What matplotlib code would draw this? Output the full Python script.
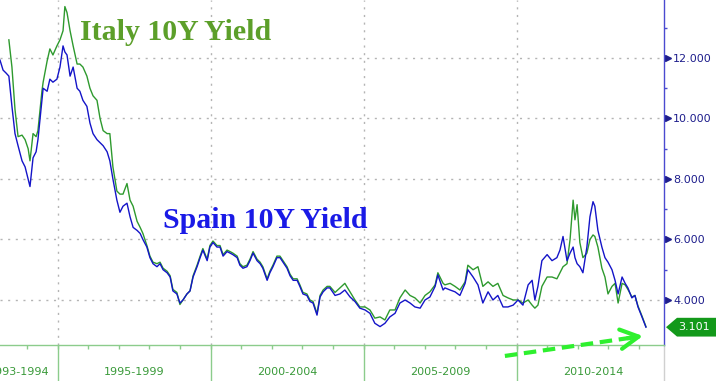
import numpy as np
import matplotlib
matplotlib.use('Agg')
import matplotlib.pyplot as plt
import matplotlib.transforms as mtransforms
from matplotlib.patches import Polygon

nan = np.nan

# ── data ───────────────────────────────────────────────────────────────────
DATES = [
    1993.12, 1993.22, 1993.32, 1993.41, 1993.51, 1993.61, 1993.71, 1993.84, 1993.94, 1994.04,
    1994.10, 1994.20, 1994.30, 1994.36, 1994.49, 1994.53, 1994.66, 1994.75, 1994.85, 1994.98,
    1995.08, 1995.18, 1995.24, 1995.31, 1995.41, 1995.51, 1995.64, 1995.73, 1995.83, 1995.96,
    1996.06, 1996.16, 1996.29, 1996.39, 1996.49, 1996.62, 1996.71, 1996.81, 1996.94, 1997.04,
    1997.14, 1997.27, 1997.37, 1997.47, 1997.60, 1997.70, 1997.79, 1997.92,
    1998.02, 1998.12, 1998.25, 1998.35, 1998.45, 1998.58, 1998.68, 1998.77, 1998.90, 1999.00,
    1999.10, 1999.23, 1999.33, 1999.43, 1999.56, 1999.66, 1999.75, 1999.89, 1999.98, 2000.08,
    2000.21, 2000.31, 2000.41, 2000.54, 2000.64, 2000.73, 2000.87, 2000.96, 2001.06, 2001.19,
    2001.29, 2001.39, 2001.52, 2001.62, 2001.71, 2001.85, 2001.94, 2002.04, 2002.17, 2002.27,
    2002.37, 2002.50, 2002.60, 2002.70, 2002.83, 2002.92, 2003.02, 2003.15, 2003.25, 2003.35,
    2003.48, 2003.58, 2003.68, 2003.81, 2003.90, 2004.07, 2004.23, 2004.39, 2004.56, 2004.72,
    2004.88, 2005.05, 2005.21, 2005.37, 2005.54, 2005.70, 2005.86, 2006.03, 2006.19, 2006.36,
    2006.52, 2006.68, 2006.85, 2007.01, 2007.17, 2007.34, 2007.43, 2007.60, 2007.66, 2007.83,
    2007.99, 2008.15, 2008.32, 2008.41, 2008.58, 2008.74, 2008.90, 2009.07, 2009.23, 2009.39,
    2009.56, 2009.72, 2009.89, 2010.05, 2010.21, 2010.38, 2010.51, 2010.60, 2010.70, 2010.83,
    2011.00, 2011.16, 2011.32, 2011.42, 2011.52, 2011.65, 2011.75, 2011.85, 2011.91, 2011.98,
    2012.07, 2012.17, 2012.30, 2012.40, 2012.50, 2012.56, 2012.66, 2012.79, 2012.89, 2012.99,
    2013.12, 2013.22, 2013.32, 2013.45, 2013.55, 2013.64, 2013.77, 2013.87, 2013.97, 2014.10,
    2014.23,
]

SPAIN_10Y = [
    11.93, 11.6, 11.5, 11.4, 10.4, 9.5, 9.1, 8.6, 8.4, 8.0,
    7.75, 8.7, 8.9, 9.3, 10.6, 11.0, 10.9, 11.3, 11.2, 11.3,
    11.7, 12.4, 12.2, 12.1, 11.4, 11.7, 11.0, 10.9, 10.6, 10.4,
    9.85, 9.5, 9.3, 9.2, 9.1, 8.9, 8.6, 8.0, 7.3, 6.9,
    7.1, 7.2, 6.75, 6.4, 6.3, 6.2, 6.0, 5.75,
    5.4, 5.2, 5.1, 5.2, 5.0, 4.9, 4.76, 4.3, 4.2, 3.9,
    4.0, 4.2, 4.3, 4.76, 5.1, 5.4, 5.65, 5.3, 5.75, 5.9,
    5.75, 5.75, 5.45, 5.6, 5.55, 5.5, 5.4, 5.15, 5.05, 5.1,
    5.3, 5.55, 5.3, 5.2, 5.05, 4.65, 4.9, 5.1, 5.4, 5.4,
    5.25, 5.05, 4.8, 4.65, 4.65, 4.45, 4.2, 4.15, 3.95, 3.9,
    3.5, 4.1, 4.27, 4.4, 4.4, 4.15, 4.2, 4.33, 4.1, 3.95,
    3.73, 3.67, 3.56, 3.23, 3.12, 3.23, 3.44, 3.56, 3.9, 4.0,
    3.9, 3.77, 3.73, 4.0, 4.1, 4.45, 4.83, 4.33, 4.4, 4.33,
    4.27, 4.15, 4.55, 5.0, 4.76, 4.5, 3.9, 4.27, 4.0, 4.15,
    3.77, 3.77, 3.83, 4.0, 3.83, 4.5, 4.65, 4.0, 4.45, 5.3,
    5.5, 5.3, 5.4, 5.65, 6.1, 5.3, 5.55, 5.75, 5.4, 5.2,
    5.1, 4.9, 5.75, 6.75, 7.25, 7.1, 6.3, 5.75, 5.4, 5.25,
    5.0, 4.65, 4.2, 4.76, 4.55, 4.4, 4.07, 4.15, 3.77, 3.44,
    3.10,
]

ITALY_10Y = [
    nan, nan, nan, 12.6, 11.7, 10.3, 9.4, 9.45, 9.3, 9.0,
    8.6, 9.5, 9.4, 9.6, 10.9, 11.2, 11.9, 12.3, 12.1, 12.4,
    12.6, 12.9, 13.7, 13.5, 12.9, 12.4, 11.8, 11.8, 11.7, 11.4,
    11.0, 10.75, 10.6, 10.0, 9.6, 9.5, 9.5, 8.4, 7.6, 7.5,
    7.5, 7.85, 7.3, 7.1, 6.6, 6.4, 6.2, 5.8,
    5.45, 5.25, 5.2, 5.25, 5.05, 4.95, 4.8, 4.35, 4.25, 3.85,
    4.0, 4.2, 4.3, 4.8, 5.15, 5.45, 5.7, 5.35, 5.8, 5.95,
    5.8, 5.8, 5.5, 5.65, 5.6, 5.55, 5.45, 5.2, 5.1, 5.15,
    5.35, 5.6, 5.35, 5.25, 5.1, 4.7, 4.95, 5.15, 5.45, 5.45,
    5.3, 5.1, 4.85, 4.7, 4.7, 4.5, 4.25, 4.2, 4.0, 3.95,
    3.55, 4.15, 4.33, 4.45, 4.45, 4.25, 4.4, 4.55, 4.27, 4.0,
    3.77, 3.77, 3.67, 3.4, 3.44, 3.34, 3.67, 3.67, 4.07, 4.33,
    4.15, 4.07, 3.9, 4.15, 4.27, 4.5, 4.9, 4.55, 4.5, 4.55,
    4.45, 4.33, 4.6, 5.15, 5.0, 5.1, 4.45, 4.6, 4.45, 4.55,
    4.15, 4.07, 4.0, 4.0, 3.9, 4.0, 3.83, 3.73, 3.83, 4.45,
    4.76, 4.76, 4.7, 4.9, 5.1, 5.2, 6.0, 7.3, 6.65, 7.15,
    5.9, 5.4, 5.55, 6.0, 6.15, 6.1, 5.75, 5.05, 4.76, 4.2,
    4.45, 4.55, 3.9, 4.55, 4.5, 4.35, 4.1, 4.15, 3.8, 3.47,
    3.12,
]

Y_TICKS = [4, 6, 8, 10, 12]
Y_MINOR = [5, 7, 9, 11, 13]
YEAR_TICKS = list(range(1994, 2015))
PERIOD_EDGES = [1995, 2000, 2005, 2010]
PERIOD_LABELS = ['1993-1994', '1995-1999', '2000-2004', '2005-2009', '2010-2014']
PERIOD_POS = [1994.72, 1997.5, 2002.5, 2007.5, 2012.5]
LAST_LABEL = '3.101'
LAST_VALUE = 3.101

# ── colours ────────────────────────────────────────────────────────────────
C_SPAIN = '#1414c8'
C_ITALY = '#2e9a2e'
C_AXIS_R = '#4a4ad0'
C_TICKTXT = '#1e1e8c'
C_AXIS_B = '#8ccc8c'
C_XTXT = '#3a9a3a'
C_GRID = '#b4b4b4'
C_TAG = '#13991a'
C_ARROW = '#2ef02e'

fig = plt.figure(figsize=(7.16, 3.81), dpi=100)
ax = fig.add_axes([0, 36 / 381, 664 / 716, 345 / 381])
XMIN, XMAX = 1993.12, 2014.82
ax.set_xlim(XMIN, XMAX)
ax.set_ylim(2.512, 13.917)

# grid
for y in Y_TICKS:
    ax.axhline(y, color=C_GRID, lw=1.0, ls=(0, (1.5, 4)), zorder=0)
for yr in PERIOD_EDGES:
    ax.axvline(yr, color=C_GRID, lw=1.0, ls=(0, (1.5, 4)), zorder=0)

# series
ax.plot(DATES, ITALY_10Y, color=C_ITALY, lw=1.0, zorder=2)
ax.plot(DATES, SPAIN_10Y, color=C_SPAIN, lw=1.0, zorder=3)

# spines
for s in ('left', 'top'):
    ax.spines[s].set_visible(False)
ax.spines['right'].set_color(C_AXIS_R)
ax.spines['right'].set_linewidth(1.0)
ax.spines['bottom'].set_color(C_AXIS_B)
ax.spines['bottom'].set_linewidth(1.0)

# right axis ticks
ax.yaxis.tick_right()
ax.set_yticks(Y_TICKS)
ax.set_yticklabels([f'{v:.3f}' for v in Y_TICKS])
ax.set_yticks(Y_MINOR, minor=True)
ax.tick_params(axis='y', which='major', length=0, pad=6.5,
               labelsize=8, labelcolor=C_TICKTXT)
ax.tick_params(axis='y', which='minor', length=2.5, width=1.0,
               direction='out', color=C_AXIS_R)
trans_r = mtransforms.blended_transform_factory(ax.transAxes, ax.transData)
ax.plot([1.0 + 3.5 / 664] * len(Y_TICKS), Y_TICKS, ls='none', marker='>',
        ms=5, color=C_TICKTXT, transform=trans_r, clip_on=False)

# bottom axis: yearly ticks, period separators and labels
ax.set_xticks(YEAR_TICKS)
ax.set_xticklabels([])
ax.tick_params(axis='x', which='major', length=3, width=1.0,
               direction='out', color=C_AXIS_B)
trans_b = mtransforms.blended_transform_factory(ax.transData, ax.transAxes)
for yr in PERIOD_EDGES:
    ax.plot([yr, yr], [0, -0.11], color=C_AXIS_B, lw=1.0,
            transform=trans_b, clip_on=False)
ax.plot([XMAX, XMAX], [0, -0.11], color='#d0d0d0', lw=1.0,
        transform=trans_b, clip_on=False)
for lab, pos in zip(PERIOD_LABELS, PERIOD_POS):
    # first label is partly cut by the left edge, as in the original
    ax.text(pos, -0.077, lab, transform=trans_b,
            ha='center' if pos > 1995 else 'right',
            va='center', fontsize=8, color=C_XTXT, clip_on=False)

# series names
ax.text(1995.73, 12.595, 'Italy 10Y Yield', family='Liberation Serif',
        fontweight='bold', fontsize=21.5, color='#5c9f2a', va='baseline')
ax.text(1998.45, 6.38, 'Spain 10Y Yield', family='Liberation Serif',
        fontweight='bold', fontsize=21.5, color='#1a1ae6', va='baseline')

# last value tag
trans_tag = mtransforms.blended_transform_factory(fig.transFigure, ax.transData)
h = 0.31
tag = Polygon([[666 / 716, LAST_VALUE], [677 / 716, LAST_VALUE + h],
               [1.0, LAST_VALUE + h], [1.0, LAST_VALUE - h],
               [677 / 716, LAST_VALUE - h]],
              closed=True, facecolor=C_TAG, edgecolor='none',
              transform=trans_tag, clip_on=False, zorder=5)
ax.add_patch(tag)
ax.text(694 / 716, LAST_VALUE, LAST_LABEL, transform=trans_tag, ha='center',
        va='center', fontsize=8, color='white', zorder=6, clip_on=False)

# dashed green arrow
ARROW_START = (2009.62, 2.15)
ARROW_END = (2014.13, 2.81)
ax.plot([ARROW_START[0], ARROW_END[0] - 0.2],
        [ARROW_START[1], ARROW_END[1] - 0.03],
        color=C_ARROW, lw=3, ls=(0, (3, 1.6)), clip_on=False, zorder=6,
        solid_capstyle='butt')
ax.annotate('', xy=ARROW_END, xytext=(ARROW_END[0] - 0.5, ARROW_END[1] - 0.073),
            arrowprops=dict(arrowstyle='->,head_length=1.3,head_width=0.7',
                            color=C_ARROW, lw=3, shrinkA=0, shrinkB=0),
            annotation_clip=False, zorder=6)

fig.savefig('out.png', dpi=100)
